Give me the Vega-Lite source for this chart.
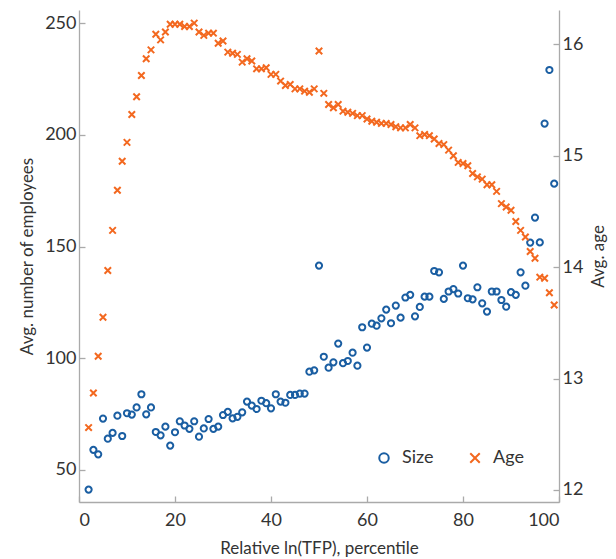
{
  "$schema": "https://vega.github.io/schema/vega-lite/v6.json",
  "autosize": "none",
  "padding": {"left": 79, "top": 10, "right": 57, "bottom": 57},
  "width": 480,
  "height": 492,
  "background": "white",
  "view": {"stroke": null},
  "config": {
    "font": "Lato",
    "axis": {
      "labelFont": "Lato", "labelFontSize": 18, "labelColor": "#333333",
      "titleFont": "Lato", "titleFontSize": 17, "titleFontWeight": "normal", "titleColor": "#333333",
      "domainColor": "#aaaaaa", "domainWidth": 1.3, "tickColor": "#aaaaaa", "tickWidth": 1.3,
      "tickSize": -6, "labelPadding": 9, "grid": false
    },
    "legend": {
      "labelFont": "Lato", "labelFontSize": 18, "labelColor": "#333333"
    }
  },
  "data": {"values": [
    {"p":2,"Size":41.2,"Age":12.56},{"p":3,"Size":59,"Age":12.87},{"p":4,"Size":57,"Age":13.2},{"p":5,"Size":73,"Age":13.55},
    {"p":6,"Size":64,"Age":13.97},{"p":7,"Size":66.6,"Age":14.33},{"p":8,"Size":74.3,"Age":14.69},{"p":9,"Size":65.2,"Age":14.95},
    {"p":10,"Size":75.4,"Age":15.12},{"p":11,"Size":74.8,"Age":15.37},{"p":12,"Size":78,"Age":15.53},{"p":13,"Size":83.9,"Age":15.72},
    {"p":14,"Size":74.9,"Age":15.87},{"p":15,"Size":78,"Age":15.95},{"p":16,"Size":67,"Age":16.09},{"p":17,"Size":65.5,"Age":16.04},
    {"p":18,"Size":69.4,"Age":16.11},{"p":19,"Size":60.9,"Age":16.18},{"p":20,"Size":66.9,"Age":16.18},{"p":21,"Size":71.8,"Age":16.18},
    {"p":22,"Size":69.9,"Age":16.16},{"p":23,"Size":68.4,"Age":16.16},{"p":24,"Size":71.8,"Age":16.19},{"p":25,"Size":64.9,"Age":16.11},
    {"p":26,"Size":68.6,"Age":16.08},{"p":27,"Size":72.8,"Age":16.1},{"p":28,"Size":68.4,"Age":16.1},{"p":29,"Size":69.4,"Age":16.01},
    {"p":30,"Size":74.6,"Age":16.03},{"p":31,"Size":76,"Age":15.93},{"p":32,"Size":73.1,"Age":15.92},{"p":33,"Size":73.8,"Age":15.91},
    {"p":34,"Size":75.8,"Age":15.84},{"p":35,"Size":80.6,"Age":15.87},{"p":36,"Size":78.8,"Age":15.85},{"p":37,"Size":77.3,"Age":15.78},
    {"p":38,"Size":81,"Age":15.78},{"p":39,"Size":79.9,"Age":15.79},{"p":40,"Size":77.6,"Age":15.73},{"p":41,"Size":83.9,"Age":15.73},
    {"p":42,"Size":80.6,"Age":15.67},{"p":43,"Size":80.1,"Age":15.63},{"p":44,"Size":83.6,"Age":15.64},{"p":45,"Size":83.6,"Age":15.6},
    {"p":46,"Size":84.2,"Age":15.6},{"p":47,"Size":84.2,"Age":15.58},{"p":48,"Size":94,"Age":15.57},{"p":49,"Size":94.6,"Age":15.6},
    {"p":50,"Size":141.5,"Age":15.94},{"p":51,"Size":100.7,"Age":15.56},{"p":52,"Size":95.8,"Age":15.46},{"p":53,"Size":98.2,"Age":15.43},
    {"p":54,"Size":106.6,"Age":15.46},{"p":55,"Size":97.8,"Age":15.4},{"p":56,"Size":98.8,"Age":15.39},{"p":57,"Size":102.5,"Age":15.38},
    {"p":58,"Size":96.7,"Age":15.36},{"p":59,"Size":113.9,"Age":15.36},{"p":60,"Size":104.8,"Age":15.33},{"p":61,"Size":115.5,"Age":15.31},
    {"p":62,"Size":114.6,"Age":15.3},{"p":63,"Size":117.9,"Age":15.29},{"p":64,"Size":121.8,"Age":15.29},{"p":65,"Size":115.7,"Age":15.28},
    {"p":66,"Size":123.6,"Age":15.26},{"p":67,"Size":118.2,"Age":15.25},{"p":68,"Size":127.2,"Age":15.25},{"p":69,"Size":128.4,"Age":15.28},
    {"p":70,"Size":118.8,"Age":15.25},{"p":71,"Size":123,"Age":15.18},{"p":72,"Size":127.6,"Age":15.19},{"p":73,"Size":127.6,"Age":15.18},
    {"p":74,"Size":139.1,"Age":15.15},{"p":75,"Size":138.5,"Age":15.11},{"p":76,"Size":126.6,"Age":15.1},{"p":77,"Size":129.9,"Age":15.05},
    {"p":78,"Size":131,"Age":15.0},{"p":79,"Size":129,"Age":14.94},{"p":80,"Size":141.5,"Age":14.93},{"p":81,"Size":126.9,"Age":14.91},
    {"p":82,"Size":126.4,"Age":14.84},{"p":83,"Size":131.8,"Age":14.81},{"p":84,"Size":124.6,"Age":14.79},{"p":85,"Size":120.9,"Age":14.74},
    {"p":86,"Size":129.9,"Age":14.74},{"p":87,"Size":129.9,"Age":14.68},{"p":88,"Size":126.1,"Age":14.57},{"p":89,"Size":123.1,"Age":14.54},
    {"p":90,"Size":129.6,"Age":14.51},{"p":91,"Size":128.4,"Age":14.41},{"p":92,"Size":138.5,"Age":14.33},{"p":93,"Size":132.5,"Age":14.27},
    {"p":94,"Size":151.8,"Age":14.14},{"p":95,"Size":163,"Age":14.08},{"p":96,"Size":151.9,"Age":13.91},{"p":97,"Size":205.1,"Age":13.9},
    {"p":98,"Size":229.1,"Age":13.77},{"p":99,"Size":178.2,"Age":13.66}
  ]},
  "transform": [{"fold": ["Size", "Age"], "as": ["series", "value"]}],
  "encoding": {
    "x": {"field": "p", "type": "quantitative",
      "scale": {"domain": [0, 100], "nice": false, "zero": false},
      "axis": {"values": [0, 20, 40, 60, 80, 100], "title": "Relative ln(TFP), percentile", "labelPadding": 15, "titlePadding": 11}},
    "color": {"field": "series", "type": "nominal",
      "scale": {"domain": ["Size", "Age"], "range": ["#1a5ea2", "#f3681f"]},
      "legend": {"title": null, "orient": "none", "legendX": 296, "legendY": 439, "direction": "horizontal",
        "symbolSize": 90, "symbolStrokeWidth": 2, "labelOffset": 9, "columnPadding": 32, "padding": 0}},
    "shape": {"field": "series", "type": "nominal",
      "scale": {"domain": ["Size", "Age"], "range": ["circle", "M-1,-1L1,1M-1,1L1,-1"]},
      "legend": {"title": null, "orient": "none", "legendX": 296, "legendY": 439, "direction": "horizontal",
        "symbolSize": 90, "symbolStrokeWidth": 2, "labelOffset": 9, "columnPadding": 32, "padding": 0}}
  },
  "layer": [
    {
      "transform": [{"filter": "datum.series === 'Size'"}],
      "mark": {"type": "point", "filled": false, "strokeWidth": 2, "size": 38, "opacity": 1},
      "encoding": {
        "y": {"field": "value", "type": "quantitative",
          "scale": {"domain": [35.65, 255.95], "nice": false, "zero": false},
          "axis": {"orient": "left", "values": [50, 100, 150, 200, 250], "title": "Avg. number of employees", "titlePadding": 8}}
      }
    },
    {
      "transform": [{"filter": "datum.series === 'Age'"}],
      "mark": {"type": "point", "filled": false, "strokeWidth": 2, "size": 42, "opacity": 1},
      "encoding": {
        "y": {"field": "value", "type": "quantitative",
          "scale": {"domain": [11.892, 16.308], "nice": false, "zero": false},
          "axis": {"orient": "right", "values": [12, 13, 14, 15, 16], "title": "Avg. age", "titlePadding": 8, "titleAngle": -90, "titleBaseline": "top"}}
      }
    }
  ],
  "resolve": {"scale": {"y": "independent"}, "axis": {"y": "independent"}}
}
